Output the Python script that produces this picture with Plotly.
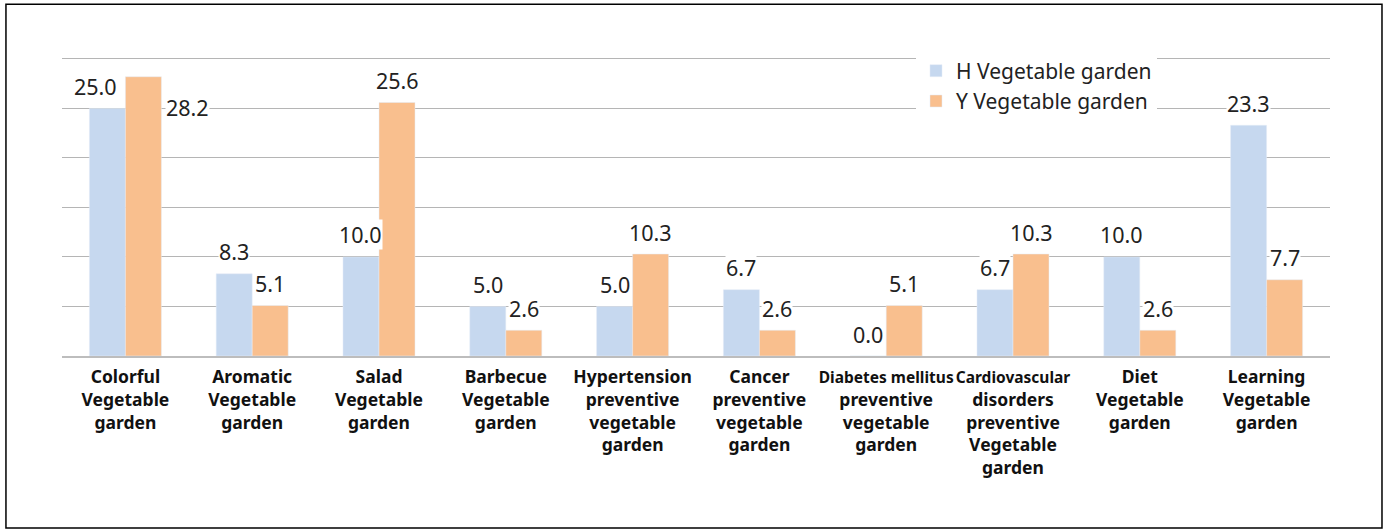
import plotly.graph_objects as go

categories = [
    "Colorful<br>Vegetable<br>garden",
    "Aromatic<br>Vegetable<br>garden",
    "Salad<br>Vegetable<br>garden",
    "Barbecue<br>Vegetable<br>garden",
    "Hypertension<br>preventive<br>vegetable<br>garden",
    "Cancer<br>preventive<br>vegetable<br>garden",
    "<span style='font-size:15.5px'>Diabetes mellitus</span><br>preventive<br>vegetable<br>garden",
    "<span style='font-size:15.5px'>Cardiovascular</span><br>disorders<br>preventive<br>Vegetable<br>garden",
    "Diet<br>Vegetable<br>garden",
    "Learning<br>Vegetable<br>garden",
]
h_values = [25.0, 8.3, 10.0, 5.0, 5.0, 6.7, 0.0, 6.7, 10.0, 23.3]
y_values = [28.2, 5.1, 25.6, 2.6, 10.3, 2.6, 5.1, 10.3, 2.6, 7.7]
series_names = ["H Vegetable garden", "Y Vegetable garden"]

BLUE = "#C6D8EF"
ORANGE = "#F9BF8E"
FONT = "Noto Sans"
BARGAP = 0.432
idx = list(range(len(categories)))

fig = go.Figure()
fig.add_trace(go.Bar(x=idx, y=h_values, name=series_names[0], marker_color=BLUE))
fig.add_trace(go.Bar(x=idx, y=y_values, name=series_names[1], marker_color=ORANGE))

half = (1 - BARGAP) / 4  # offset of each bar centre from category centre
annotations = []
for i, v in enumerate(h_values):
    xs, ys = 0, 22
    if i == 0:
        xs = -12
    annotations.append(dict(x=i - half, y=v, xref="x", yref="y", text=f"{v:.1f}",
                            showarrow=False, xshift=xs, yshift=ys, yanchor="middle",
                            bgcolor="white", borderpad=0,
                            font=dict(family=FONT, size=21.5, color="#222")))
for i, v in enumerate(y_values):
    xs, ys = 0, 22
    if i == 0:
        xs, ys = 44, -31
    annotations.append(dict(x=i + half, y=v, xref="x", yref="y", text=f"{v:.1f}",
                            showarrow=False, xshift=xs, yshift=ys, yanchor="middle",
                            bgcolor="white", borderpad=0,
                            font=dict(family=FONT, size=21.5, color="#222")))

# plot area: y=0 at 356px, 30 at 59px -> 9.9 px per unit; range top 31 -> 49px
fig.update_layout(
    width=1387, height=531,
    margin=dict(l=62, r=57, t=49, b=175),
    paper_bgcolor="white", plot_bgcolor="white",
    barmode="group", bargap=BARGAP, bargroupgap=0,
    showlegend=True,
    legend=dict(x=0.6735, y=0.995, xanchor="left", yanchor="top",
                bgcolor="white", font=dict(family=FONT, size=21, color="#222"),
                itemwidth=30),
    xaxis=dict(tickmode="array", tickvals=idx, ticktext=categories,
               range=[-0.5, len(categories) - 0.5], tickangle=0,
               showline=True, linecolor="#BDBDBD", linewidth=2,
               ticks="", showgrid=False, ticklabelstandoff=4,
               tickfont=dict(family=FONT, size=17.5, color="#111", weight="bold")),
    yaxis=dict(range=[0, 31], tickvals=[5, 10, 15, 20, 25, 30], showticklabels=False,
               showgrid=True, gridcolor="#B5B5B5", gridwidth=1, zeroline=False,
               fixedrange=True),
    annotations=annotations,
    shapes=[dict(type="rect", xref="paper", yref="paper",
                 x0=-0.0442, x1=1.041, y0=-0.56, y1=1.146,
                 line=dict(color="black", width=1.5))],
)

fig.write_html("out.html", config={"displayModeBar": False},
               post_script="document.body.style.margin='0';")
